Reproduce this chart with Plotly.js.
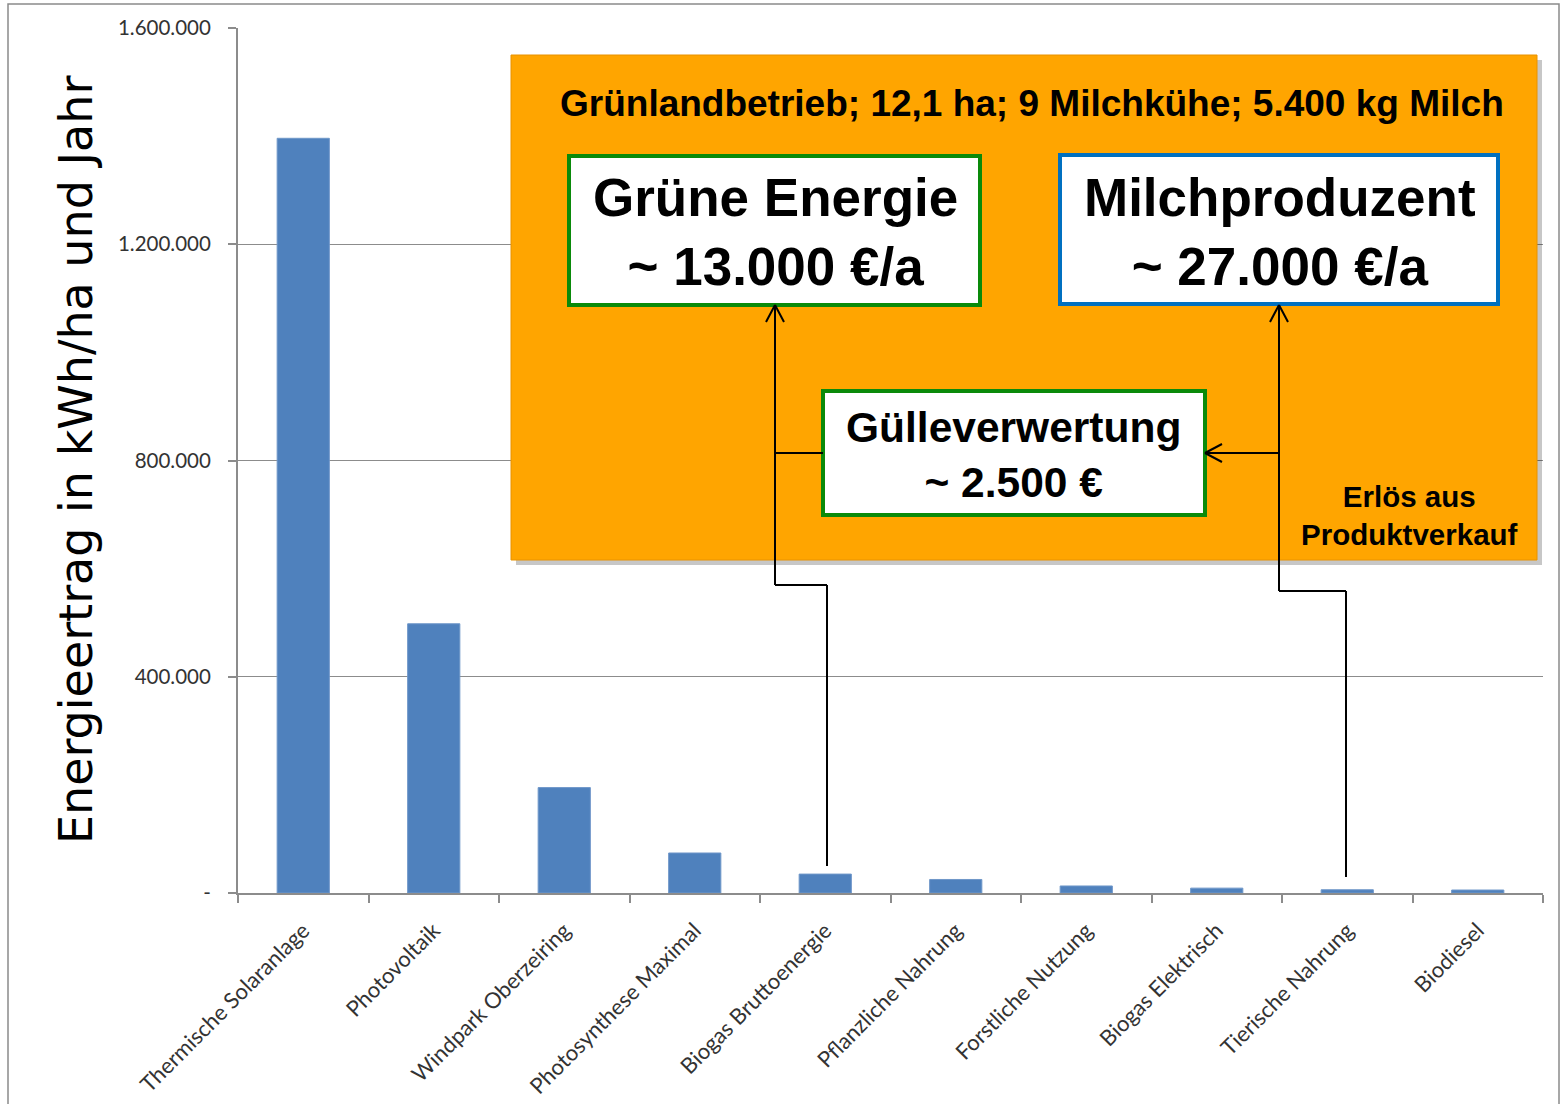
<!DOCTYPE html>
<html>
<head>
<meta charset="utf-8">
<script src="https://cdn.plot.ly/plotly-3.0.1.min.js"></script>
<style>
  body { margin: 0; background: #fff; }
  #chart { width: 1561px; height: 1104px; }
</style>
</head>
<body>
<div id="chart"></div>
<script>
var categories = [
  "Thermische Solaranlage",
  "Photovoltaik",
  "Windpark Oberzeiring",
  "Photosynthese Maximal",
  "Biogas Bruttoenergie",
  "Pflanzliche Nahrung",
  "Forstliche Nutzung",
  "Biogas Elektrisch",
  "Tierische Nahrung",
  "Biodiesel"
];
var energyValues = [1396000, 498000, 195000, 74000, 35000, 25000, 13000, 9000, 6000, 5500];
var yTickValues = [0, 400000, 800000, 1200000, 1600000];
var yTickLabels = ["-", "400.000", "800.000", "1.200.000", "1.600.000"];

// plot area in pixels
var W = 1561, H = 1104;
var L = 238, R = 1543, T = 28, B = 893;
function px(x) { return (x - L) / (R - L); }
function py(y) { return (B - y) / (B - T); }

function rect(x0, y0, x1, y1, fill, lineColor, lineWidth) {
  return {
    type: "rect", xref: "paper", yref: "paper", layer: "above",
    x0: px(x0), x1: px(x1), y0: py(y1), y1: py(y0),
    fillcolor: fill,
    line: { color: lineColor, width: lineWidth }
  };
}
function seg(x0, y0, x1, y1) {
  return {
    type: "line", xref: "paper", yref: "paper", layer: "above",
    x0: px(x0), x1: px(x1), y0: py(y0), y1: py(y1),
    line: { color: "#000000", width: 2 }
  };
}
function label(x, y, text, size) {
  return {
    xref: "paper", yref: "paper", x: px(x), y: py(y),
    xanchor: "center", yanchor: "middle", showarrow: false,
    text: "<b>" + text + "</b>",
    font: { family: "Liberation Sans, Arial, sans-serif", size: size, color: "#000000" }
  };
}

var shapes = [
  // outer frame
  rect(8, 4, 1559, 1110, "rgba(0,0,0,0)", "#8a8a8a", 1.5),
  // orange panel with shadow
  rect(516, 60, 1542, 565, "rgba(0,0,0,0.22)", "rgba(0,0,0,0)", 0),
  rect(511, 55, 1537, 560, "#FFA500", "#E89200", 1),
  // boxes
  rect(569, 156, 980, 305, "#FFFFFF", "#0A8A0A", 4),
  rect(1060, 155, 1498, 304, "#FFFFFF", "#0070C0", 4),
  rect(823, 391, 1205, 515, "#FFFFFF", "#0A8A0A", 4),
  // connector left
  seg(775, 305, 775, 585),
  seg(775, 585, 827, 585),
  seg(827, 585, 827, 866),
  seg(775, 453, 823, 453),
  seg(775, 305, 766, 322),
  seg(775, 305, 784, 322),
  // connector right
  seg(1279, 305, 1279, 591),
  seg(1279, 591, 1346, 591),
  seg(1346, 591, 1346, 877),
  seg(1279, 453, 1205, 453),
  seg(1279, 305, 1270, 322),
  seg(1279, 305, 1288, 322),
  seg(1205, 453, 1222, 444),
  seg(1205, 453, 1222, 462)
];

var annotations = [
  {
    xref: "paper", yref: "paper", x: px(76), y: py(460),
    xanchor: "center", yanchor: "middle", showarrow: false, textangle: -90,
    text: "Energieertrag in kWh/ha und Jahr",
    font: { family: "DejaVu Sans, Verdana, sans-serif", size: 46, color: "#000000" }
  },
  label(1032, 103, "Grünlandbetrieb; 12,1 ha; 9 Milchkühe; 5.400 kg Milch", 37),
  label(775, 232, "Grüne Energie<br>~ 13.000 €/a", 53),
  label(1280, 232, "Milchproduzent<br>~ 27.000 €/a", 53),
  label(1014, 455, "Gülleverwertung<br>~ 2.500 €", 42.5),
  label(1409, 515, "Erlös aus<br>Produktverkauf", 29.5)
];

var data = [
  {
    type: "bar",
    x: categories,
    y: energyValues,
    marker: { color: "#4F81BD", line: { color: "#6f97c9", width: 1 } },
    hoverinfo: "x+y"
  }
];

var layout = {
  width: W,
  height: H,
  margin: { l: L, r: W - R, t: T, b: H - B, pad: 0 },
  paper_bgcolor: "#FFFFFF",
  plot_bgcolor: "#FFFFFF",
  showlegend: false,
  bargap: 0.6,
  font: { family: "Lato, sans-serif", color: "#222222" },
  xaxis: {
    type: "category",
    range: [-0.5, 9.5],
    showline: true,
    linecolor: "#8c8c8c",
    linewidth: 2,
    ticks: "outside",
    tickson: "boundaries",
    ticklen: 8,
    tickcolor: "#8c8c8c",
    tickwidth: 2,
    tickangle: -45,
    ticklabelstandoff: 14,
    showgrid: false,
    tickfont: { family: "Lato, sans-serif", size: 22, color: "#333333" }
  },
  yaxis: {
    range: [0, 1600000],
    tickvals: yTickValues,
    ticktext: yTickLabels,
    showline: true,
    linecolor: "#8c8c8c",
    linewidth: 2,
    ticks: "outside",
    ticklen: 8,
    tickcolor: "#8c8c8c",
    tickwidth: 2,
    ticklabelstandoff: 13,
    showgrid: true,
    gridcolor: "#8c8c8c",
    gridwidth: 1,
    zeroline: false,
    tickfont: { family: "Lato, sans-serif", size: 20.5, color: "#333333" }
  },
  shapes: shapes,
  annotations: annotations
};

Plotly.newPlot("chart", data, layout, { displayModeBar: false, responsive: false });
</script>
</body>
</html>
